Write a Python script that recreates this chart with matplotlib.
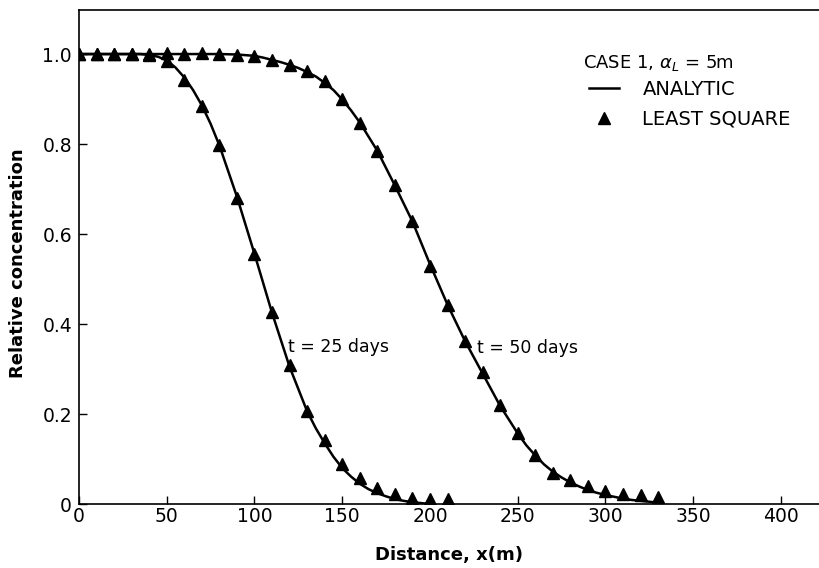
import numpy as np
import matplotlib.pyplot as plt
from matplotlib.lines import Line2D

# least-square points, every 10 m
x25_pts = np.arange(0, 220, 10)
c25_pts = [1.0, 1.0, 1.0, 1.0, 0.998, 0.984, 0.943, 0.884, 0.797, 0.68, 0.556,
           0.426, 0.308, 0.206, 0.143, 0.089, 0.058, 0.036, 0.022, 0.013, 0.011, 0.011]

x50_pts = np.arange(0, 340, 10)
c50_pts = [1.0, 1.0, 1.0, 1.0, 1.0, 1.002, 1.001, 1.002, 0.999, 0.997, 0.995,
           0.986, 0.976, 0.962, 0.939, 0.899, 0.847, 0.784, 0.708, 0.63, 0.53,
           0.443, 0.362, 0.293, 0.22, 0.158, 0.11, 0.068, 0.054, 0.04, 0.028,
           0.022, 0.02, 0.016]

# analytic curves
x25_line = [0, 10, 20, 30, 35, 40, 45, 50, 55, 60, 65, 70, 75, 80, 90, 100, 110,
            120, 130, 135, 140, 145, 150, 155, 160, 165, 170, 175, 180, 185, 190, 195, 200]
c25_line = [1.0, 1.0, 1.0, 1.0, 1.0, 0.998, 0.994, 0.986, 0.97, 0.948, 0.92, 0.886,
            0.845, 0.797, 0.683, 0.556, 0.425, 0.305, 0.206, 0.168, 0.135, 0.105,
            0.08, 0.061, 0.045, 0.033, 0.024, 0.017, 0.011, 0.007, 0.004, 0.002, 0.0]

x50_line = [0, 20, 40, 60, 80, 90, 100, 105, 110, 115, 120, 125, 130, 135, 140, 145,
            150, 155, 160, 170, 180, 190, 200, 210, 220, 230, 240, 250, 255, 260,
            265, 270, 275, 280, 285, 290, 295, 300, 305, 310, 315, 320, 325, 330]
c50_line = [1.0, 1.0, 1.0, 1.0, 1.0, 0.999, 0.996, 0.992, 0.987, 0.982, 0.976, 0.969,
            0.96, 0.95, 0.936, 0.92, 0.899, 0.875, 0.848, 0.785, 0.708, 0.628, 0.533,
            0.443, 0.362, 0.29, 0.218, 0.157, 0.13, 0.108, 0.088, 0.072, 0.059, 0.048,
            0.039, 0.031, 0.025, 0.02, 0.016, 0.012, 0.009, 0.007, 0.005, 0.003]

xticks = [0, 50, 100, 150, 200, 250, 300, 350, 400]
yticks = [0, 0.2, 0.4, 0.6, 0.8, 1.0]
ytick_labels = ['0', '0.2', '0.4', '0.6', '0.8', '1.0']

fs = 13
fig = plt.figure(figsize=(8.19, 5.68), dpi=100)
ax = fig.add_axes([79 / 819, 1 - 504 / 568, 740 / 819, 494.5 / 568])

ax.plot(x25_line, c25_line, color='black', lw=1.8)
ax.plot(x50_line, c50_line, color='black', lw=1.8)
ax.plot(x25_pts, c25_pts, '^', color='black', ms=8.5, ls='none')
ax.plot(x50_pts, c50_pts, '^', color='black', ms=8.5, ls='none')

ax.set_xlim(0, 421.7)
ax.set_ylim(0, 1.099)
ax.set_xticks(xticks)
ax.set_yticks(yticks)
ax.set_yticklabels(ytick_labels)
ax.tick_params(direction='in', length=6, width=1, labelsize=13.5)
ax.tick_params(axis='x', pad=2)
ax.tick_params(axis='y', pad=5)
ax.spines['right'].set_visible(False)
for s in ['left', 'bottom', 'top']:
    ax.spines[s].set_linewidth(1.2)

ax.set_xlabel('Distance, x(m)', fontsize=fs, fontweight='bold')
ax.xaxis.set_label_coords(0.5, -0.085)
ax.set_ylabel('Relative concentration', fontsize=fs, fontweight='bold')
ax.yaxis.set_label_coords(-0.07, 0.487)

ax.text(119, 0.35, 't = 25 days', fontsize=12.5, va='center', ha='left')
ax.text(227, 0.346, 't = 50 days', fontsize=12.5, va='center', ha='left')

ax.text(583 / 819, 1 - 63 / 568, r'CASE 1, $\alpha_L$ = 5m', fontsize=fs,
        transform=fig.transFigure, ha='left', va='center')
handles = [Line2D([], [], color='black', lw=1.8),
           Line2D([], [], color='black', marker='^', ms=8.5, ls='none')]
leg = ax.legend(handles, ['ANALYTIC', 'LEAST SQUARE'],
                loc='upper left', bbox_to_anchor=(589 / 819, 1 - 80 / 568),
                bbox_transform=fig.transFigure, frameon=False, fontsize=14,
                borderpad=0, handlelength=1.55, handletextpad=1.2,
                labelspacing=0.55, borderaxespad=0)

fig.savefig('out.png', dpi=100)
